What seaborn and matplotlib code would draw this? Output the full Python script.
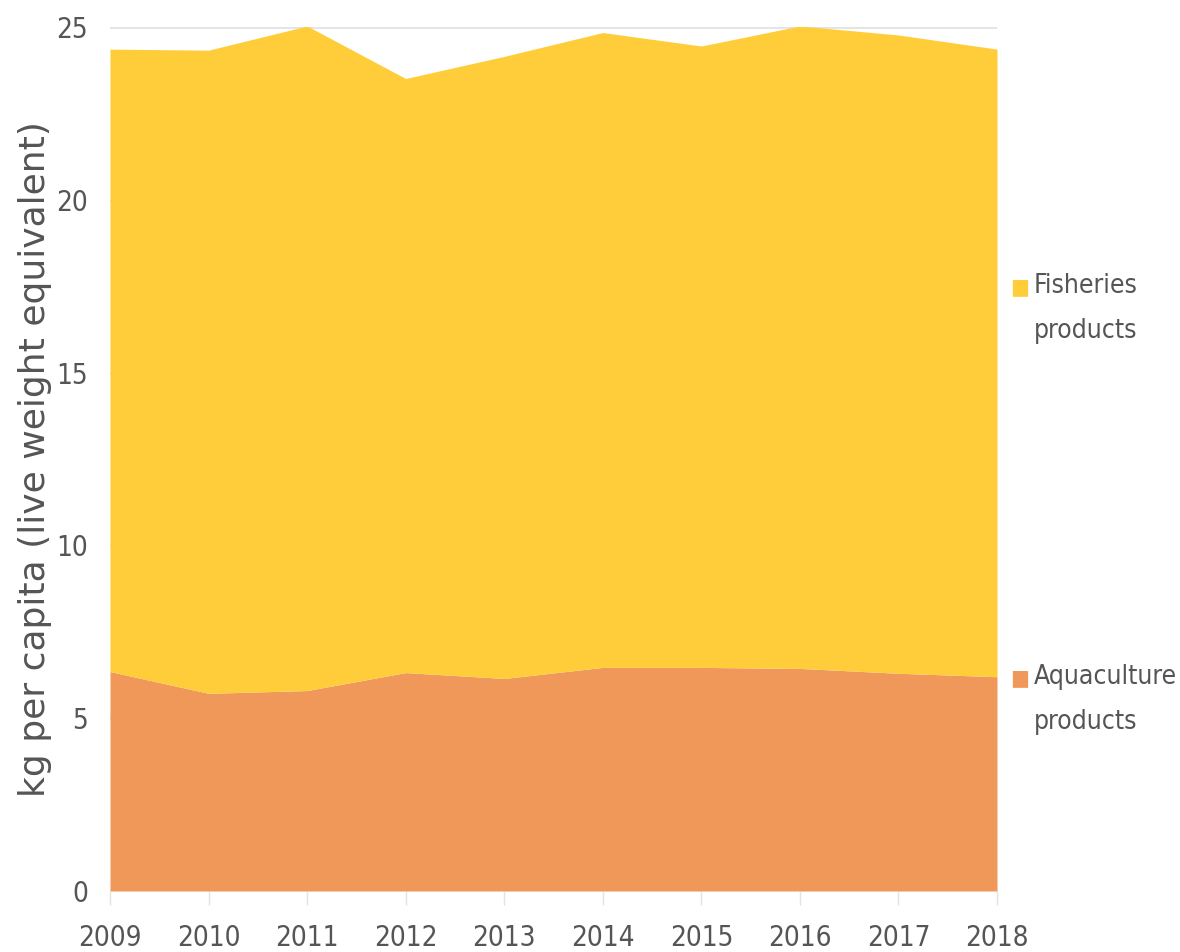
#!/usr/bin/env python3

# Per capita apparent consumption, stacked by production method.

import matplotlib
matplotlib.use("Agg")
import matplotlib.pyplot as plt
import pandas
import seaborn as sns

years = [2009, 2010, 2011, 2012, 2013, 2014, 2015, 2016, 2017, 2018]
aquaculture = [6.35, 5.72, 5.80, 6.32, 6.15, 6.47, 6.47, 6.44, 6.30, 6.20]
total = [24.36, 24.33, 25.03, 23.51, 24.15, 24.84, 24.45, 25.03, 24.77, 24.36]
fisheries = [t - a for t, a in zip(total, aquaculture)]

series_names = ["Aquaculture\nproducts", "Fisheries\nproducts"]
colors = ["#F0975A", "#FFCD3A"]
ylabel = "kg per capita (live weight equivalent)"
yticks = [0, 5, 10, 15, 20, 25]

sns.set_theme(style="white")
plt.rcParams["font.family"] = ["DejaVu Sans"]
plt.rcParams["font.stretch"] = "condensed"

df = pandas.DataFrame(
    {"year": years, "aquaculture": aquaculture, "fisheries": fisheries}
)

fig = plt.figure(figsize=(11.8, 9.52), dpi=100)
ax = fig.add_axes([110 / 1180, 1 - 891 / 952, (997 - 110) / 1180, (891 - 27) / 952])

ax.stackplot(
    df["year"],
    df["aquaculture"],
    df["fisheries"],
    colors=colors,
    linewidth=0,
    zorder=2,
)

ax.set_xlim(2009, 2018)
ax.set_ylim(0, 25)
ax.set_xticks(years)
ax.set_xticklabels([str(y) for y in years])
ax.set_yticks(yticks)
ax.set_yticklabels([str(v) for v in yticks])

ax.yaxis.grid(True, color="#e3e3e3", linewidth=2, zorder=1)
ax.set_axisbelow(True)
for s in ax.spines.values():
    s.set_visible(False)

ax.tick_params(axis="x", which="major", length=10, width=1, color="#e3e3e3",
               pad=14, labelsize=20, labelcolor="#555555", bottom=True)
ax.tick_params(axis="y", which="major", length=0, pad=16, labelsize=20,
               labelcolor="#555555")

ax.set_ylabel(ylabel, fontsize=26, color="#555555", fontstretch="normal")
ax.yaxis.set_label_coords((35 - 110) / 887, 0.5)
ax.yaxis.label.set_va("center")
ax.set_xlabel("")

# legend on the right, one entry per layer
for name, color, ypix in zip(series_names, colors, [678, 287]):
    fig.text(1010 / 1180, 1 - ypix / 952, "\u25A0", fontsize=16, color=color,
             va="center", ha="left")
    fig.text(1034 / 1180, 1 - (ypix - 14) / 952, name, fontsize=19,
             color="#555555", va="top", ha="left", linespacing=1.95)

fig.savefig("out.png", dpi=100)
